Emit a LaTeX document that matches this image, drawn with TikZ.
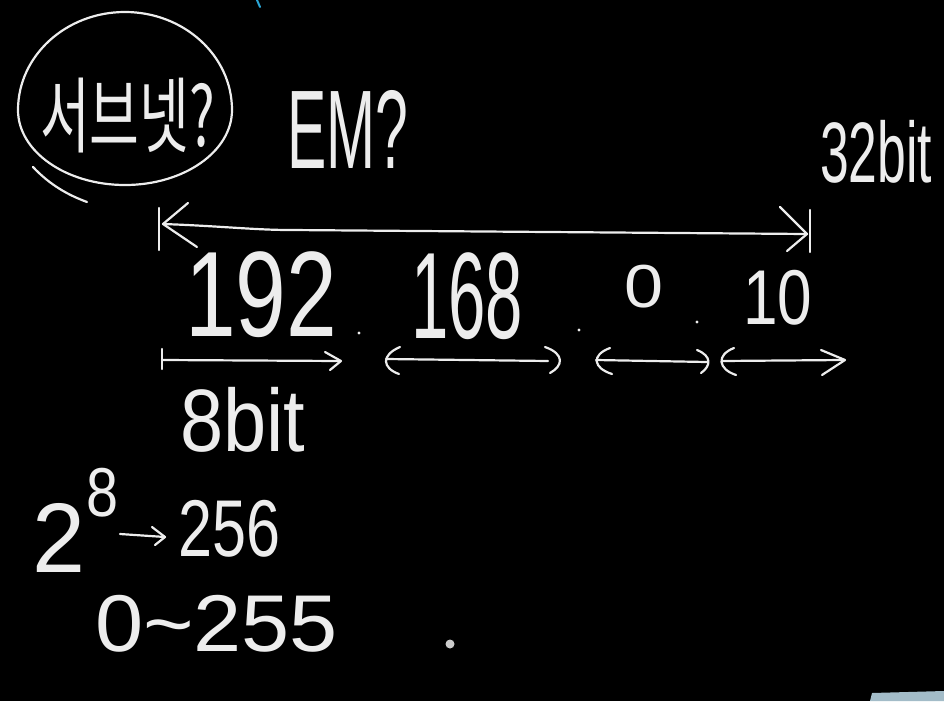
\documentclass[tikz,border=0pt]{standalone}
\usepackage{fontspec}
\setmainfont{Liberation Sans}
\newfontfamily\krfont{Noto Sans CJK KR}
\usepackage{graphicx}
\definecolor{chalk}{HTML}{EDEDED}
\definecolor{penblue}{HTML}{2AA6D6}
\definecolor{uigrey}{HTML}{A3BCC8}
\tikzset{
  stroke/.style={draw=chalk, line width=2.2pt, line cap=round, line join=round},
  hw/.style={anchor=north west, inner sep=0pt, outer sep=0pt, text=chalk},
}
\newcommand{\hwtext}[6]{\node[hw] (#1) at (#2,#3) {\resizebox*{#4pt}{#5pt}{#6}};}
\begin{document}
\begin{tikzpicture}[x=1pt,y=-1pt]
\fill[black] (0,0) rectangle (944,701);
\useasboundingbox (0,0) rectangle (944,701);
% small marks at edges
\draw[penblue, line width=2pt, line cap=round] (257,0) -- (260,7);
\fill[uigrey] (870,701) -- (872,693) -- (944,691) -- (944,701) -- cycle;

% circled word (egg-shaped loop)
\draw[stroke] (232,110) arc[start angle=0, end angle=180, x radius=107, y radius=75]
                        arc[start angle=180, end angle=360, x radius=107, y radius=98];
\draw[stroke] (33,167) .. controls (50,185) and (68,195) .. (87,202);
\hwtext{subnet}{40}{78}{175}{75}{\krfont 서브넷?}
\hwtext{em}{287}{90}{121}{78}{EM?}
\hwtext{bits32}{820}{120}{112}{63}{32bit}

% long double arrow
\coordinate (LL) at (163,224);
\coordinate (LR) at (807,234);
\draw[stroke] (LL) .. controls (220,226) and (255,230) .. (290,230) -- (LR);
\draw[stroke] (188,203) -- (LL) -- (197,247);
\draw[stroke] (159,208) -- (159,250);
\draw[stroke] (780,207) -- (LR) -- (787,251);
\draw[stroke] (810,210) -- (810,252);

% address
\hwtext{o1}{185}{252}{152}{86}{192}
\hwtext{o2}{411}{253}{112}{87}{168}
\hwtext{o3}{624}{265}{39}{43}{0}
\hwtext{o4}{743}{270}{69}{55}{10}
\fill[chalk] (359,333) circle (1.6);
\fill[chalk] (579,330) circle (1.6);
\fill[chalk] (697,322) circle (1.6);

% octet arrows
\draw[stroke] (162,349) -- (162,369);
\draw[stroke] (162,360) -- (340,361);
\draw[stroke] (325,352) -- (341,361) -- (330,370);

\draw[stroke] (400,347) .. controls (381,355) and (382,368) .. (399,374);
\draw[stroke] (386,359) -- (548,361);
\draw[stroke] (545,347) .. controls (565,354) and (563,366) .. (550,373);

\draw[stroke] (610,348) .. controls (591,355) and (593,368) .. (612,374);
\draw[stroke] (596,360) -- (707,362);
\draw[stroke] (697,350) .. controls (712,356) and (711,366) .. (701,373);

\draw[stroke] (734,348) .. controls (716,355) and (718,369) .. (736,375);
\draw[stroke] (722,361) -- (844,360);
\draw[stroke] (821,350) -- (845,360) -- (822,375);

% notes
\hwtext{bit8}{180}{387}{125}{65}{8bit}
\hwtext{two}{33}{503}{53}{69}{2}
\hwtext{eight}{86}{468}{32}{49}{8}
\coordinate (AS) at (120,534);
\coordinate (AE) at (165,537);
\draw[stroke] (AS) -- (AE);
\draw[stroke] (152,527) -- (AE) -- (155,545);
\hwtext{n256}{178}{500}{102}{57}{256}
\hwtext{range}{95}{595}{243}{57}{0\textasciitilde255}
\fill[black!20] (450,644) circle (4.5);
\end{tikzpicture}
\end{document}
